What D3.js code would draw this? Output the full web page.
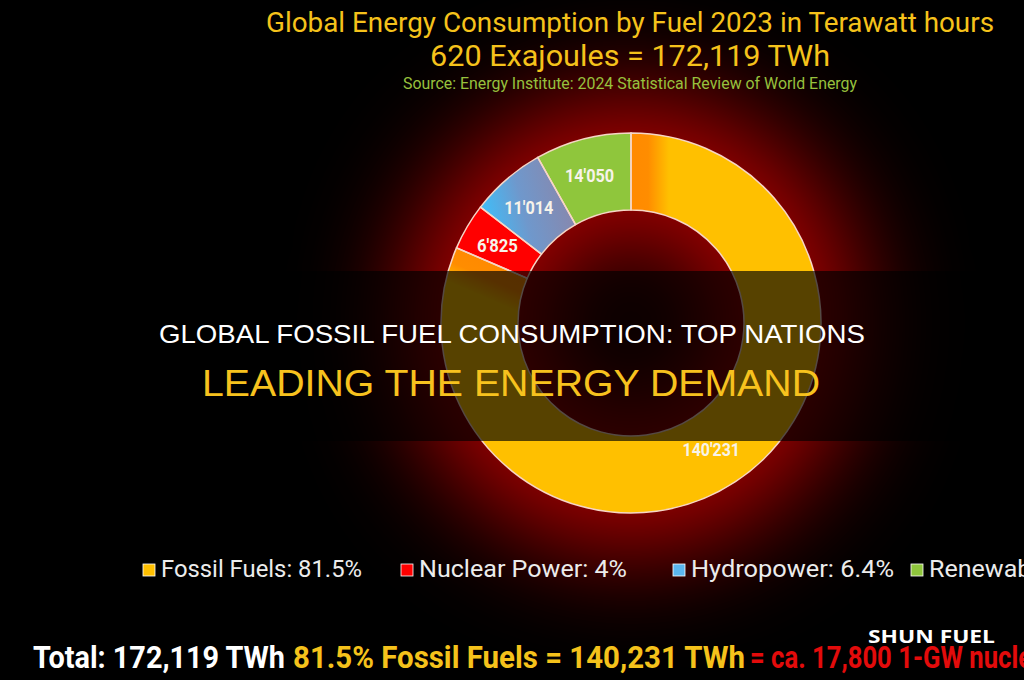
<!DOCTYPE html>
<html>
<head>
<meta charset="utf-8">
<script src="https://cdn.jsdelivr.net/npm/d3@7"></script>
<style>
  body { margin: 0; background: #000; }
  svg { display: block; }
</style>
</head>
<body>
<div id="chart"></div>
<script>
// ---- data ----
const fuels = ["Fossil Fuels", "Nuclear Power", "Hydropower", "Renewables"];
const twh = [140231, 6825, 11014, 14050];
const shares = ["81.5%", "4%", "6.4%", "8.2%"];
const titleLines = [
  "Global Energy Consumption by Fuel 2023 in Terawatt hours",
  "620 Exajoules = 172,119 TWh"
];
const sourceLine = "Source: Energy Institute: 2024 Statistical Review of World Energy";
const bannerLines = ["GLOBAL FOSSIL FUEL CONSUMPTION: TOP NATIONS", "LEADING THE ENERGY DEMAND"];
const footerParts = [
  "Total: 172,119 TWh",
  "81.5% Fossil Fuels = 140,231 TWh",
  "= ca. 17,800 1-GW nuclear power plants"
];
const watermark = "SHUN FUEL";

// ---- layout ----
const W = 1024, H = 680;
const cx = 631, cy = 323;
const rOuter = 190, rInner = 113;
const COLORS = {
  fossil: "#ffc000",
  orange: "#ff8a00",
  nuclear: "#ff0000",
  hydro: "#5ab6ee",
  renew: "#8fc63c",
  gold: "#f5c21b",
  green: "#97c13d",
  red: "#e30b0b",
  stroke: "#f6d6c6"
};

const svg = d3.select("#chart").append("svg")
  .attr("width", W)
  .attr("height", H)
  .attr("viewBox", [0, 0, W, H]);

svg.append("rect").attr("width", W).attr("height", H).attr("fill", "#000");

const defs = svg.append("defs");

// red glow around the ring
defs.append("filter")
  .attr("id", "glow")
  .attr("x", "-100%").attr("y", "-100%")
  .attr("width", "300%").attr("height", "300%")
  .append("feGaussianBlur")
  .attr("stdDeviation", 55);

// gradients/clips below are in the donut group's coordinates (origin = ring centre)
function fade(id, x1, y1, x2, y2) {
  const gr = defs.append("linearGradient")
    .attr("id", id)
    .attr("gradientUnits", "userSpaceOnUse")
    .attr("x1", x1).attr("y1", y1).attr("x2", x2).attr("y2", y2);
  gr.append("stop").attr("offset", 0).attr("stop-color", COLORS.orange).attr("stop-opacity", 1);
  gr.append("stop").attr("offset", 0.45).attr("stop-color", COLORS.orange).attr("stop-opacity", 0.95);
  gr.append("stop").attr("offset", 1).attr("stop-color", COLORS.orange).attr("stop-opacity", 0);
}

const pie = d3.pie().sort(null).value(d => d);
const arc = d3.arc().innerRadius(rInner).outerRadius(rOuter);
const fmt = v => d3.format(",")(v).replace(/,/g, "'");
const slices = pie(twh);

// orange fade at the start of the fossil slice (12 o'clock, fading to the right)
fade("fadeStart", 0, 0, 38, 0);
defs.append("clipPath").attr("id", "clipStart")
  .append("rect").attr("x", 0).attr("y", -rOuter - 5).attr("width", 120).attr("height", rOuter);

// orange fade at the end of the fossil slice, running back along the ring
const endA = slices[0].endAngle;
const rMid = (rInner + rOuter) / 2;
const p0 = [rMid * Math.sin(endA), -rMid * Math.cos(endA)];
const tan = [-Math.cos(endA), -Math.sin(endA)];
fade("fadeEnd", p0[0], p0[1], p0[0] + 34 * tan[0], p0[1] + 34 * tan[1]);
defs.append("clipPath").attr("id", "clipEnd")
  .append("rect").attr("x", -rOuter - 5).attr("y", -rOuter).attr("width", 130).attr("height", rOuter + 40);

const hydroGrad = defs.append("linearGradient")
  .attr("id", "hydroGrad")
  .attr("gradientUnits", "userSpaceOnUse")
  .attr("x1", -143).attr("y1", -108).attr("x2", -66).attr("y2", -128);
hydroGrad.append("stop").attr("offset", 0).attr("stop-color", "#45b9f3");
hydroGrad.append("stop").attr("offset", 0.45).attr("stop-color", "#6f98cc");
hydroGrad.append("stop").attr("offset", 1).attr("stop-color", "#8589b0");

const fills = [COLORS.fossil, COLORS.nuclear, "url(#hydroGrad)", COLORS.renew];
const legendFills = [COLORS.fossil, COLORS.nuclear, COLORS.hydro, COLORS.renew];

// glow
svg.append("circle")
  .attr("cx", cx).attr("cy", cy)
  .attr("r", rMid + 8)
  .attr("fill", "none")
  .attr("stroke", "#b00000")
  .attr("stroke-width", rOuter - rInner + 60)
  .attr("filter", "url(#glow)");

// ---- titles ----
svg.append("text")
  .attr("x", 630).attr("y", 32)
  .attr("text-anchor", "middle")
  .attr("font-family", "Roboto, sans-serif")
  .attr("font-size", 28)
  .attr("fill", COLORS.gold)
  .attr("textLength", 728)
  .attr("lengthAdjust", "spacingAndGlyphs")
  .text(titleLines[0]);

svg.append("text")
  .attr("x", 630).attr("y", 66)
  .attr("text-anchor", "middle")
  .attr("font-family", "Roboto, sans-serif")
  .attr("font-size", 29)
  .attr("fill", COLORS.gold)
  .attr("textLength", 400)
  .attr("lengthAdjust", "spacingAndGlyphs")
  .text(titleLines[1]);

svg.append("text")
  .attr("x", 630).attr("y", 89)
  .attr("text-anchor", "middle")
  .attr("font-family", "Roboto, sans-serif")
  .attr("font-size", 16.5)
  .attr("fill", COLORS.green)
  .attr("textLength", 454)
  .attr("lengthAdjust", "spacingAndGlyphs")
  .text(sourceLine);

// ---- donut ----
const donut = svg.append("g").attr("transform", `translate(${cx},${cy})`);

donut.selectAll("path.slice")
  .data(slices)
  .join("path")
  .attr("class", "slice")
  .attr("d", arc)
  .attr("fill", (d, i) => fills[i]);

// orange ends of the fossil slice
donut.append("path")
  .attr("d", arc(slices[0]))
  .attr("fill", "url(#fadeStart)")
  .attr("clip-path", "url(#clipStart)");
donut.append("path")
  .attr("d", arc(slices[0]))
  .attr("fill", "url(#fadeEnd)")
  .attr("clip-path", "url(#clipEnd)");

// thin light outlines on top
donut.selectAll("path.outline")
  .data(slices)
  .join("path")
  .attr("class", "outline")
  .attr("d", arc)
  .attr("fill", "none")
  .attr("stroke", COLORS.stroke)
  .attr("stroke-width", 1.5);

donut.selectAll("text")
  .data(slices)
  .join("text")
  .attr("transform", d => {
    const [x, y] = arc.centroid(d);
    return `translate(${x - 3},${y + 6})`;
  })
  .attr("text-anchor", "middle")
  .attr("font-family", "Roboto, sans-serif")
  .attr("font-weight", "bold")
  .attr("font-size", 17.5)
  .attr("fill", "#f7f3ea")
  .attr("textLength", d => fmt(d.data).length * 8.2)
  .attr("lengthAdjust", "spacingAndGlyphs")
  .text(d => fmt(d.data));

// ---- banner ----
svg.append("rect")
  .attr("x", 0).attr("y", 271)
  .attr("width", W).attr("height", 170)
  .attr("fill", "#000")
  .attr("fill-opacity", 0.66);

svg.append("text")
  .attr("x", 512).attr("y", 343)
  .attr("text-anchor", "middle")
  .attr("font-family", "'Liberation Sans', Arial, sans-serif")
  .attr("font-size", 26.5)
  .attr("fill", "#ffffff")
  .attr("textLength", 706)
  .attr("lengthAdjust", "spacingAndGlyphs")
  .text(bannerLines[0]);

svg.append("text")
  .attr("x", 511).attr("y", 396)
  .attr("text-anchor", "middle")
  .attr("font-family", "'Liberation Sans', Arial, sans-serif")
  .attr("font-size", 36)
  .attr("fill", "#f7c21e")
  .attr("textLength", 618)
  .attr("lengthAdjust", "spacingAndGlyphs")
  .text(bannerLines[1]);

// ---- legend ----
const legendX = [143, 401, 673, 911];
const legendLen = [201, 208, 203, 200];
const legend = svg.append("g")
  .selectAll("g")
  .data(fuels)
  .join("g")
  .attr("transform", (d, i) => `translate(${legendX[i]},564)`);

legend.append("rect")
  .attr("width", 12).attr("height", 12)
  .attr("fill", (d, i) => legendFills[i])
  .attr("stroke", "#fff")
  .attr("stroke-width", 0.8);

legend.append("text")
  .attr("x", 18).attr("y", 13)
  .attr("font-family", "Roboto, sans-serif")
  .attr("font-size", 24)
  .attr("fill", "#ececec")
  .attr("textLength", (d, i) => legendLen[i])
  .attr("lengthAdjust", "spacingAndGlyphs")
  .text((d, i) => `${d}: ${shares[i]}`);

// ---- footer ----
const footerX = [33, 293, 750];
const footerLen = [252, 452, 460];
const footerColors = ["#ffffff", COLORS.gold, COLORS.red];
svg.append("g")
  .selectAll("text")
  .data(footerParts)
  .join("text")
  .attr("x", (d, i) => footerX[i])
  .attr("y", 668)
  .attr("font-family", "Roboto, sans-serif")
  .attr("font-weight", "bold")
  .attr("font-size", 31)
  .attr("fill", (d, i) => footerColors[i])
  .attr("textLength", (d, i) => footerLen[i])
  .attr("lengthAdjust", "spacingAndGlyphs")
  .text(d => d);

svg.append("text")
  .attr("x", 868).attr("y", 643)
  .attr("font-family", "'Open Sans', 'DejaVu Sans', sans-serif")
  .attr("font-weight", "bold")
  .attr("font-size", 18)
  .attr("fill", "#ffffff")
  .attr("textLength", 127)
  .attr("lengthAdjust", "spacingAndGlyphs")
  .text(watermark);
</script>
</body>
</html>
